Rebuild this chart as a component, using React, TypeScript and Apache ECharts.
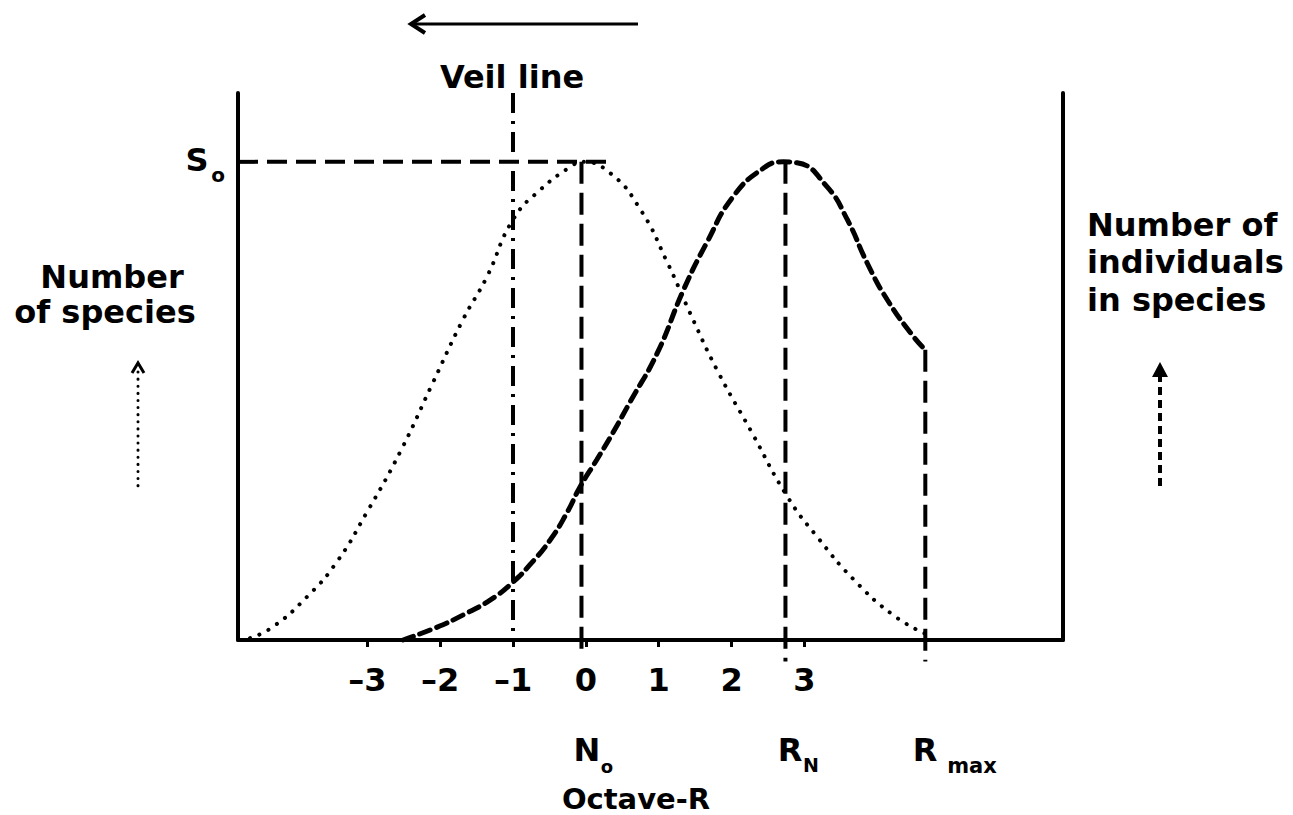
import React, { useEffect, useRef } from "react";
import * as echarts from "echarts";

// Octave-R positions and relative heights (S0 = 1)
const speciesOctave = [-4.61, -4.3, -3.83, -3.42, -3.01, -2.55, -2.1, -1.69, -1.36, -1.0, -0.63, -0.17, -0.06, 0.33, 0.75, 1.12, 1.43, 1.8, 2.26, 2.77, 3.18, 3.68, 4.22, 4.66];
const speciesCount = [0.004, 0.027, 0.09, 0.163, 0.266, 0.393, 0.538, 0.669, 0.759, 0.879, 0.941, 0.994, 1.0, 0.977, 0.9, 0.789, 0.684, 0.565, 0.439, 0.299, 0.215, 0.126, 0.052, 0.013];

const indivOctave = [-2.51, -2.04, -1.69, -1.31, -1.0, -0.77, -0.49, -0.26, -0.08, 0.15, 0.37, 0.6, 0.98, 1.34, 1.66, 2.02, 2.44, 2.71, 2.9, 3.31, 3.59, 3.86, 4.14, 4.5, 4.66];
const indivCount = [0.0, 0.027, 0.052, 0.084, 0.121, 0.157, 0.209, 0.266, 0.32, 0.377, 0.433, 0.496, 0.6, 0.732, 0.831, 0.927, 0.987, 1.0, 0.998, 0.948, 0.879, 0.789, 0.711, 0.634, 0.607];

const xTickValues = [-3, -2, -1, 0, 1, 2, 3];
const veilLineX = -1.0;
const n0X = -0.06;
const rNX = 2.74;
const rMaxX = 4.66;
const s0Level = 1;
const s0LineEnd = 0.31;
const xMin = -4.775;
const xMax = 6.55;
const yMax = 1.144;

const FONT = "DejaVu Sans";

function pairs(xs: number[], ys: number[]) {
  return xs.map((x, i) => [x, ys[i]]);
}

export default function App() {
  const ref = useRef<HTMLDivElement>(null);
  useEffect(() => {
    if (!ref.current) return;
    const chart = echarts.init(ref.current, null, { renderer: "svg" });
    const txt = (x: number, y: number, text: string, size = 32, align = "center") => ({
      type: "text",
      x,
      y,
      style: {
        text,
        fontFamily: FONT,
        fontWeight: "bold",
        fontSize: size,
        fill: "#000",
        align,
        verticalAlign: "middle",
      },
    });
    const vertLine = (x: number, y0: number, y1: number, dash: number[]) => ({
      type: "line",
      data: [[x, y0], [x, y1]],
      symbol: "none",
      clip: false,
      silent: true,
      lineStyle: { color: "#000", width: 4, type: dash },
    });
    const yAxisBase = (position: string) => ({
      type: "value",
      min: 0,
      max: yMax,
      position,
      axisLine: { show: true, onZero: false, lineStyle: { color: "#000", width: 4 } },
      axisTick: { show: false },
      axisLabel: { show: false },
      splitLine: { show: false },
    });
    chart.setOption({
      animation: false,
      backgroundColor: "#fff",
      grid: { left: 238, right: 230, top: 93, bottom: 175 },
      xAxis: {
        type: "value",
        min: xMin,
        max: xMax,
        axisLine: { show: true, onZero: false, lineStyle: { color: "#000", width: 4 } },
        axisTick: { show: true, customValues: xTickValues, length: 7, lineStyle: { color: "#000", width: 3 } },
        axisLabel: {
          show: true,
          customValues: xTickValues,
          margin: 24,
          fontFamily: FONT,
          fontWeight: "bold",
          fontSize: 32,
          color: "#000",
          formatter: (v: number) => (v < 0 ? "\u2013" + Math.abs(v) : String(v)),
        },
        splitLine: { show: false },
      },
      yAxis: [yAxisBase("left"), yAxisBase("right")],
      series: [
        {
          name: "Number of species",
          type: "line",
          data: pairs(speciesOctave, speciesCount),
          smooth: 0.5,
          symbol: "none",
          clip: false,
          lineStyle: { color: "#000", width: 4, type: [0.1, 10], cap: "round" },
        },
        {
          name: "Number of individuals in species",
          type: "line",
          data: pairs(indivOctave, indivCount),
          smooth: 0.5,
          symbol: "none",
          clip: false,
          lineStyle: { color: "#000", width: 5, type: [11, 7], cap: "round" },
        },
        {
          type: "line",
          data: [[xMin, s0Level], [s0LineEnd, s0Level]],
          symbol: "none",
          clip: false,
          silent: true,
          lineStyle: { color: "#000", width: 4, type: [20, 9] },
        },
        vertLine(veilLineX, yMax, 0, [20, 8, 3, 8]),
        vertLine(n0X, s0Level, -0.02, [22, 9]),
        vertLine(rNX, s0Level, -0.045, [22, 9]),
        vertLine(rMaxX, indivCount[indivCount.length - 1], -0.045, [22, 9]),
      ],
      graphic: [
        // top arrow
        { type: "line", shape: { x1: 638, y1: 24, x2: 412, y2: 24 }, style: { stroke: "#000", lineWidth: 3 } },
        { type: "polyline", shape: { points: [[425, 15], [411, 24], [425, 33]] }, style: { stroke: "#000", lineWidth: 4, fill: null } },
        txt(512, 77, "Veil line"),
        txt(197, 160, "S"),
        txt(218, 175, "o", 20),
        txt(112, 277, "Number"),
        txt(105, 312, "of species"),
        // left dotted arrow
        { type: "line", shape: { x1: 138, y1: 372, x2: 138, y2: 486 }, style: { stroke: "#000", lineWidth: 3, lineDash: [0.1, 7], lineCap: "round" } },
        { type: "polyline", shape: { points: [[132, 373], [138, 363], [144, 373]] }, style: { stroke: "#000", lineWidth: 3, fill: null } },
        txt(1087, 225, "Number of", 32, "left"),
        txt(1087, 262, "individuals", 32, "left"),
        txt(1087, 300, "in species", 32, "left"),
        // right dashed arrow
        { type: "line", shape: { x1: 1160, y1: 374, x2: 1160, y2: 490 }, style: { stroke: "#000", lineWidth: 4, lineDash: [8, 5] } },
        { type: "polygon", shape: { points: [[1152, 377], [1160, 362], [1168, 377]] }, style: { fill: "#000" } },
        txt(587, 750, "N"),
        txt(607, 766, "o", 18),
        txt(790, 750, "R"),
        txt(811, 765, "N", 19),
        txt(925, 750, "R"),
        txt(972, 766, "max", 21),
        txt(636, 799, "Octave-R", 29),
      ],
    });
    return () => chart.dispose();
  }, []);
  return <div ref={ref} style={{ position: "fixed", left: 0, top: 0, width: 1293, height: 815, background: "#fff" }} />;
}
